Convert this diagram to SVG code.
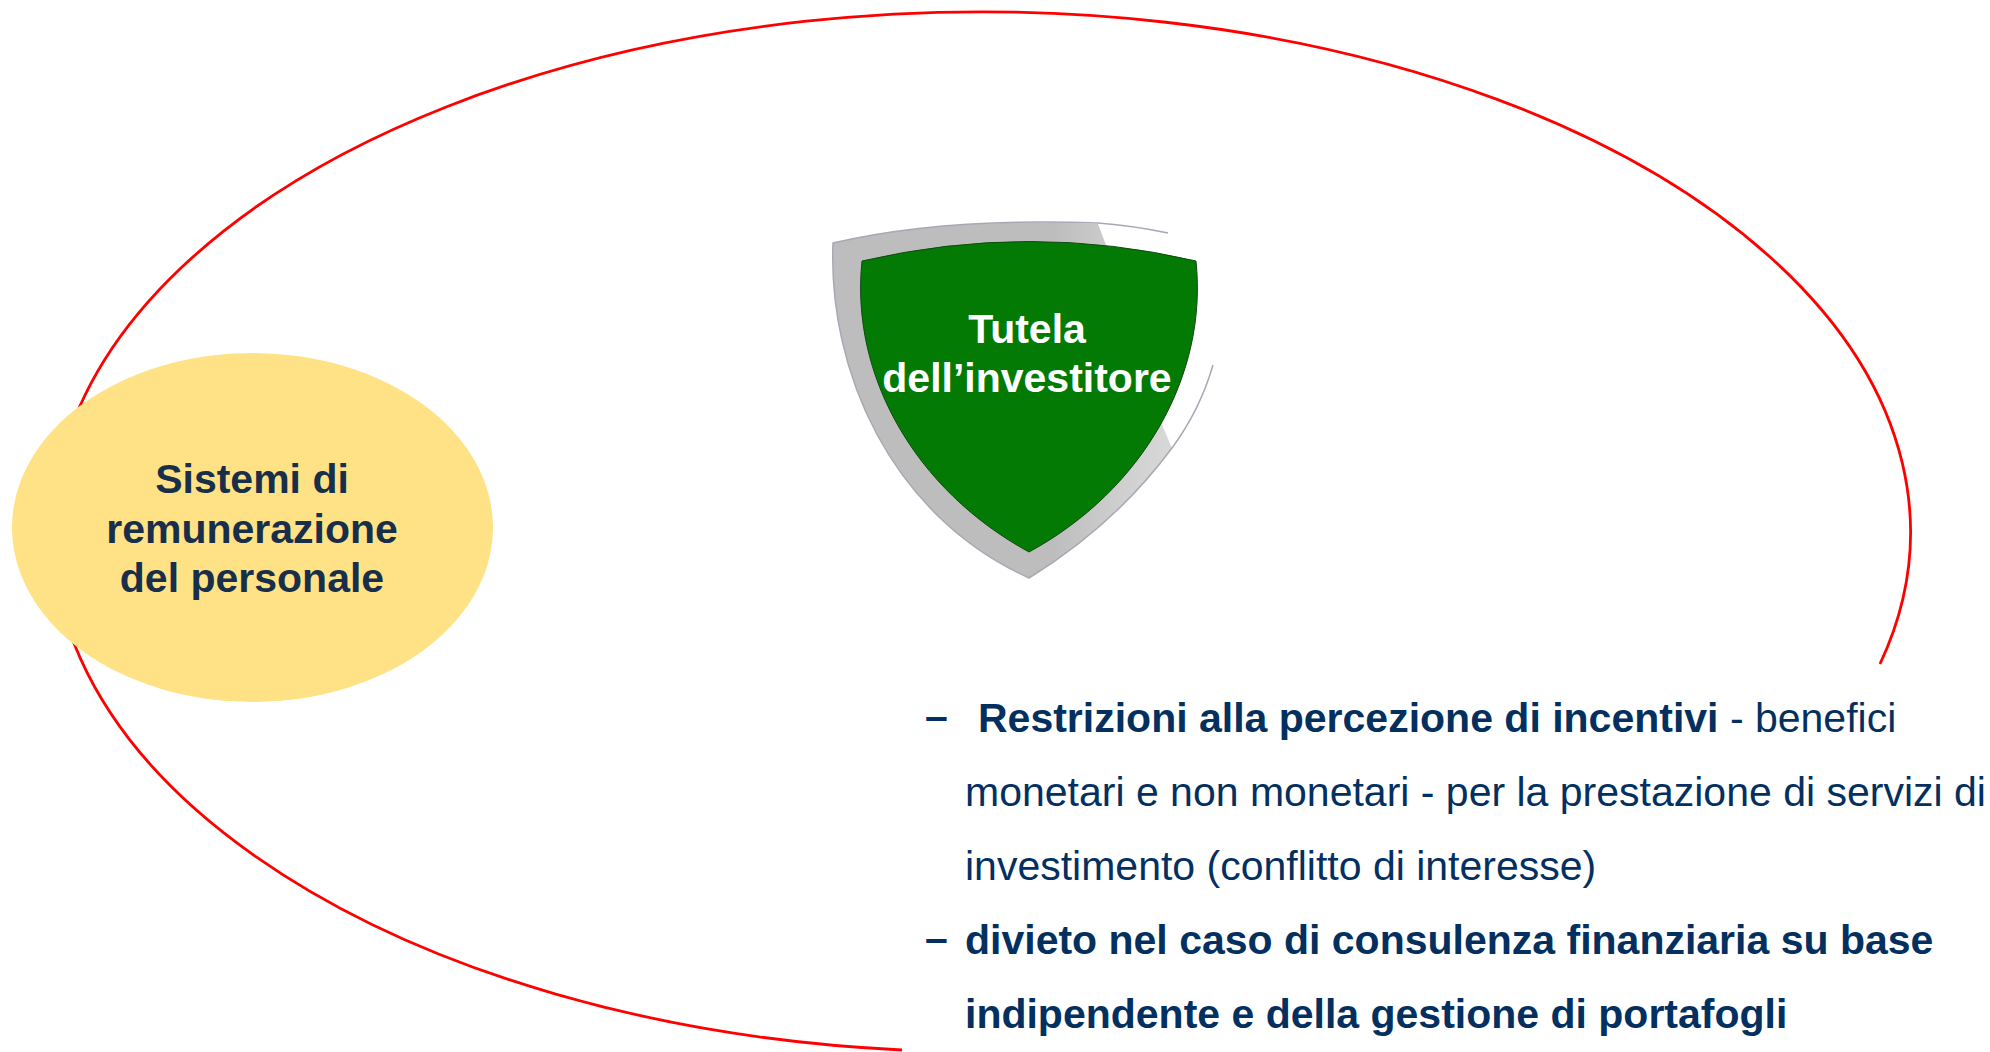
<svg xmlns="http://www.w3.org/2000/svg" width="1990" height="1052" viewBox="0 0 1990 1052">
<defs>
<linearGradient id="metal" x1="0" y1="0" x2="1" y2="0"><stop offset="0" stop-color="#bdbdbf"/><stop offset="0.65" stop-color="#bdbdbd"/><stop offset="0.85" stop-color="#cfcfcf"/><stop offset="1" stop-color="#d8d8d8"/></linearGradient>
</defs>
<style>
text{font-family:"Liberation Sans",Arial,sans-serif}
.c{text-anchor:middle;font-weight:bold;font-size:41px}
.b{font-size:41px;fill:#03305f}
.s{font-weight:bold}
.e{fill:none;stroke:#a8a8b4;stroke-width:1.5}
</style>
<rect width="1990" height="1052" fill="#fff"/>
<g id="connectors">
<path d="M1880,664 A929,520 0 1 0 902,1050" fill="none" stroke="#f00" stroke-width="2.8"/>
</g>
<g id="node-sistemi">
<ellipse cx="252.500" cy="527.500" rx="240.500" ry="174.500" fill="#ffe285"/>
<text class="c" fill="#172f4a"><tspan x="252" y="493">Sistemi di</tspan><tspan x="252" y="543">remunerazione</tspan><tspan x="252" y="592">del personale</tspan></text>
</g>
<g id="node-tutela">
<path d="M833,243 C880,232 960,218 1098,224 L1106,245 L1163,427 L1172,448 Q1115,525 1029,578 C890,515 828,370 833,243Z" fill="url(#metal)"/>
<path class="e" d="M1168,233 Q1135,226 1098,223 C960,218 880,232 833,243 C828,370 890,515 1029,578 Q1115,525 1172,448 Q1200,410 1213,365"/>
<path d="M862,261 Q1030,222 1196,261 C1208,375 1143,490 1029,552 C915,490 850,375 862,261Z" fill="#037a03" stroke="#0f4a0f" stroke-width="1"/>
<text class="c" fill="#fff"><tspan x="1027" y="343">Tutela</tspan><tspan x="1027" y="392">dell’investitore</tspan></text>
</g>
<g id="node-testo">
<text class="b"><tspan class="s" x="925" y="730">–</tspan><tspan class="s" x="978" y="732">Restrizioni alla percezione di incentivi</tspan><tspan y="732"> - benefici</tspan></text>
<text class="b" x="965" y="806">monetari e non monetari - per la prestazione di servizi di</text>
<text class="b" x="965" y="880">investimento (conflitto di interesse)</text>
<text class="b s" x="925" y="952">–</text>
<text class="b s" x="965" y="954">divieto nel caso di consulenza finanziaria su base</text>
<text class="b s" x="965" y="1028">indipendente e della gestione di portafogli</text>
</g>
</svg>
